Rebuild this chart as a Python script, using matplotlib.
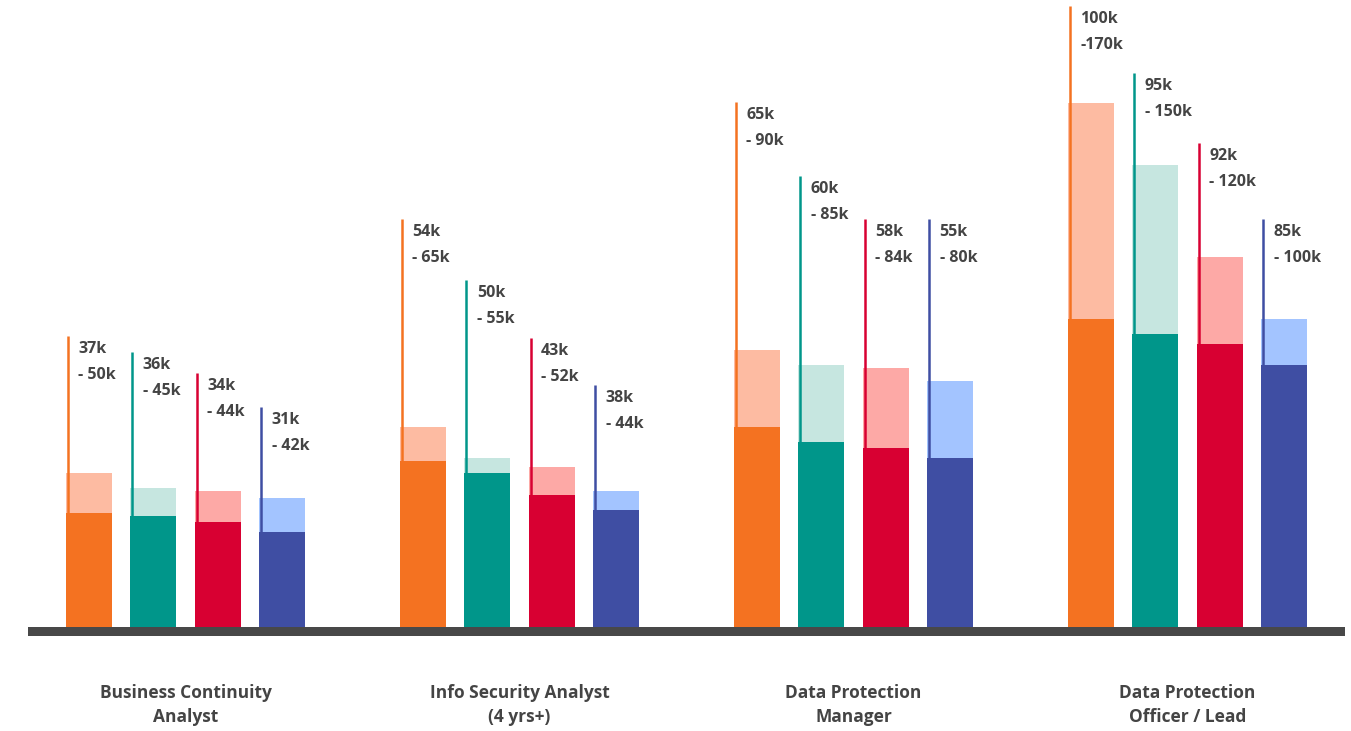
import matplotlib
matplotlib.use("Agg")
import matplotlib.pyplot as plt

# salary bands in k, one entry per role, bars ordered orange / teal / red / navy
roles = ["Business Continuity\nAnalyst", "Info Security Analyst\n(4 yrs+)",
         "Data Protection\nManager", "Data Protection\nOfficer / Lead"]
low_k = [[37, 36, 34, 31],
         [54, 50, 43, 38],
         [65, 60, 58, 55],
         [100, 95, 92, 85]]
high_k = [[50, 45, 44, 42],
          [65, 55, 52, 44],
          [90, 85, 84, 80],
          [170, 150, 120, 100]]
# separator printed in front of the upper value
high_sep = [["- ", "- ", "- ", "- "],
            ["- ", "- ", "- ", "- "],
            ["- ", "- ", "- ", "- "],
            ["-", "- ", "- ", "- "]]
# how far up each marker line reaches (k)
stem_top_k = [[94.5, 89.3, 82.5, 71.4],
              [132.5, 112.7, 93.8, 78.6],
              [170.5, 146.4, 132.5, 132.5],
              [201.6, 179.9, 157.1, 132.5]]

dark_colors = ["#F47221", "#00968A", "#D80032", "#3F4EA3"]
light_colors = ["#FDBBA2", "#C6E6E0", "#FDA9A6", "#A3C4FF"]
text_color = "#444444"
font = ["Open Sans", "DejaVu Sans"]

group_step = 5.186
bar_w = 0.714

fig = plt.figure(figsize=(13.51, 7.31), dpi=100)
ax = fig.add_axes([0, 0, 1, 1])
ax.set_xlim(-1.382, 19.596)
ax.set_ylim(-33.77, 203.57)
ax.axis("off")

for g in range(len(roles)):
    for j in range(4):
        xc = g * group_step + j
        lo = low_k[g][j]
        hi = high_k[g][j]
        ax.bar(xc, hi, width=bar_w, color=light_colors[j], zorder=1)
        ax.bar(xc, lo, width=bar_w, color=dark_colors[j], zorder=2)
        xl = xc - bar_w / 2 + 0.03
        ax.plot([xl, xl], [0, stem_top_k[g][j]], color=dark_colors[j],
                lw=1.8, solid_capstyle="butt", zorder=3)
        top = stem_top_k[g][j]
        ax.annotate("%dk" % lo, (xl, top), xytext=(7.5, -9.5),
                    textcoords="offset points", ha="left", va="center",
                    fontsize=11.5, fontweight="bold", color=text_color,
                    family=font)
        ax.annotate("%s%dk" % (high_sep[g][j], hi), (xl, top), xytext=(7.5, -28),
                    textcoords="offset points", ha="left", va="center",
                    fontsize=11.5, fontweight="bold", color=text_color,
                    family=font)
    ax.text(g * group_step + 1.5, -25.3, roles[g], ha="center", va="center",
            fontsize=12.5, fontweight="bold", color=text_color,
            linespacing=1.45, family=font)

# thick base line under the bars
ax.axhspan(-2.92, 0, xmin=28 / 1351, xmax=1345 / 1351, color="#484848",
           lw=0, zorder=4)

fig.savefig("out.png", dpi=100)
